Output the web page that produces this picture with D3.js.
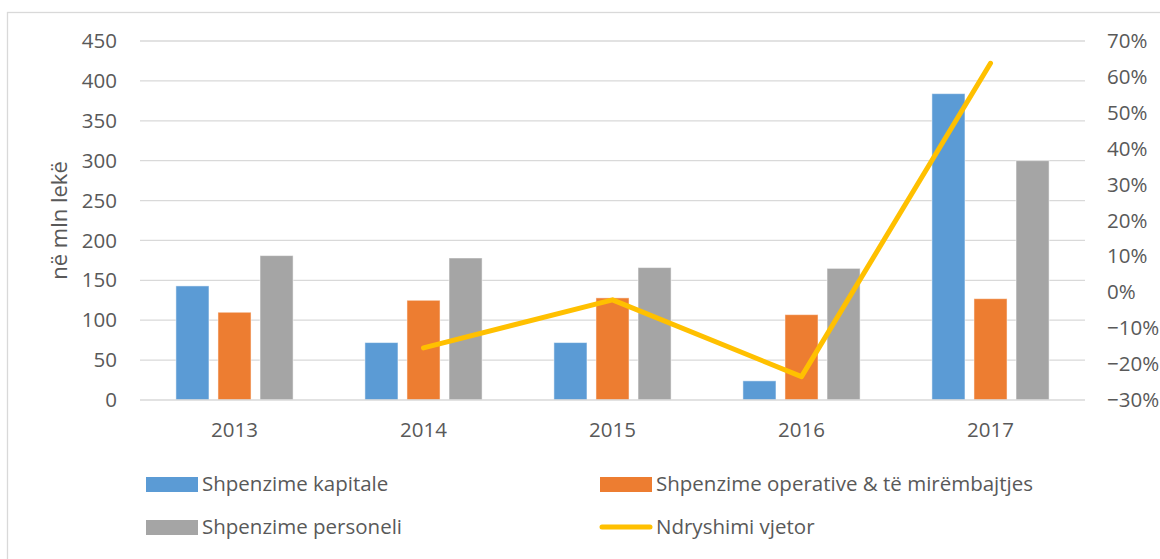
<!DOCTYPE html>
<html>
<head>
<meta charset="utf-8">
<script src="https://cdn.jsdelivr.net/npm/d3@7"></script>
<style>
  body { margin: 0; background: #fff; }
  svg text { font-family: "Open Sans", sans-serif; fill: #595959; }
  .grid line { stroke: #d9d9d9; stroke-width: 1.3; }
</style>
</head>
<body>
<svg width="1160" height="559"></svg>
<script>
var years = ["2013", "2014", "2015", "2016", "2017"];
var seriesNames = ["Shpenzime kapitale", "Shpenzime operative & të mirëmbajtjes", "Shpenzime personeli"];
var seriesColors = ["#5b9bd5", "#ed7d31", "#a5a5a5"];
var kapitale = [143, 72, 72, 24, 384];
var operative = [110, 125, 128, 107, 127];
var personeli = [181, 178, 166, 165, 300];
var lineName = "Ndryshimi vjetor";
var lineColor = "#ffc000";
var ndryshimi = [null, -0.155, -0.021, -0.235, 0.638];
var leftTicks = [0, 50, 100, 150, 200, 250, 300, 350, 400, 450];
var rightTicks = [-0.3, -0.2, -0.1, 0, 0.1, 0.2, 0.3, 0.4, 0.5, 0.6, 0.7];

var svg = d3.select("svg"),
    margin = {top: 41, right: 75, bottom: 159, left: 140},
    width = +svg.attr("width") - margin.left - margin.right,
    height = +svg.attr("height") - margin.top - margin.bottom;

// chart frame (runs past the right and bottom edges)
svg.append("rect")
    .attr("x", 7.5).attr("y", 12.5)
    .attr("width", 1200).attr("height", 600)
    .attr("fill", "none").attr("stroke", "#d9d9d9").attr("stroke-width", 1.3);

var g = svg.append("g").attr("transform", "translate(" + margin.left + "," + margin.top + ")");

var x0 = d3.scaleBand().domain(years).range([0, width]);
var groupW = x0.bandwidth() * 0.62;
var x1 = d3.scaleBand().domain(d3.range(3)).range([-groupW / 2, groupW / 2]).paddingInner(0.214);

var y = d3.scaleLinear().domain([0, 450]).range([height, 0]);
var y2 = d3.scaleLinear().domain([-0.3, 0.7]).range([height, 0]);

// gridlines
g.append("g").attr("class", "grid")
  .selectAll("line").data(leftTicks.slice(1)).enter().append("line")
    .attr("x1", 0).attr("x2", width)
    .attr("y1", function(d) { return y(d); }).attr("y2", function(d) { return y(d); });

// left axis
var yAxis = g.append("g")
    .call(d3.axisLeft(y).tickValues(leftTicks).tickSize(0).tickPadding(23));
yAxis.select(".domain").remove();
yAxis.selectAll("text").style("font-size", "20.5px");

// right axis
var yAxis2 = g.append("g")
    .attr("transform", "translate(" + width + ",0)")
    .call(d3.axisRight(y2).tickValues(rightTicks).tickSize(0).tickPadding(22).tickFormat(d3.format(".0%")));
yAxis2.select(".domain").remove();
yAxis2.selectAll("text").style("font-size", "20.5px");

// bars
var seriesData = [kapitale, operative, personeli];
var groups = g.selectAll(".year")
  .data(years)
  .enter().append("g")
    .attr("class", "year")
    .attr("transform", function(d) { return "translate(" + (x0(d) + x0.bandwidth() / 2) + ",0)"; });

groups.selectAll("rect")
  .data(function(d, i) { return seriesData.map(function(s, k) { return {k: k, v: s[i]}; }); })
  .enter().append("rect")
    .attr("x", function(d) { return x1(d.k); })
    .attr("width", x1.bandwidth())
    .attr("y", function(d) { return y(d.v); })
    .attr("height", function(d) { return height - y(d.v); })
    .attr("fill", function(d) { return seriesColors[d.k]; })
    .attr("stroke", "#fff").attr("stroke-opacity", 0.5).attr("stroke-width", 1);

// x axis baseline
g.append("line")
    .attr("x1", 0).attr("x2", width)
    .attr("y1", height).attr("y2", height)
    .attr("stroke", "#d9d9d9").attr("stroke-width", 1.5);

var xAxis = g.append("g")
    .attr("transform", "translate(0," + height + ")")
    .call(d3.axisBottom(x0).tickSize(0).tickPadding(22));
xAxis.select(".domain").remove();
xAxis.selectAll("text").style("font-size", "20.5px");

// line
var line = d3.line()
    .defined(function(d) { return d != null; })
    .x(function(d, i) { return x0(years[i]) + x0.bandwidth() / 2; })
    .y(function(d) { return y2(d); });

g.append("path")
    .datum(ndryshimi)
    .attr("fill", "none")
    .attr("stroke", lineColor)
    .attr("stroke-width", 5)
    .attr("stroke-linecap", "round")
    .attr("stroke-linejoin", "round")
    .attr("d", line);

// y label
g.append("text")
    .attr("text-anchor", "middle")
    .attr("transform", "rotate(-90)")
    .attr("x", -(y(225)))
    .attr("y", -73)
    .style("font-size", "22px")
    .text("në mln lekë");

// legend
var legendItems = [
  {name: seriesNames[0], color: seriesColors[0], type: "rect"},
  {name: seriesNames[1], color: seriesColors[1], type: "rect"},
  {name: seriesNames[2], color: seriesColors[2], type: "rect"},
  {name: lineName, color: lineColor, type: "line"}
];
var legend = svg.append("g").attr("transform", "translate(146,484)");
var item = legend.selectAll(".item")
  .data(legendItems)
  .enter().append("g")
    .attr("class", "item")
    .attr("transform", function(d, i) { return "translate(" + (i % 2) * 454 + "," + Math.floor(i / 2) * 43 + ")"; });

item.filter(function(d) { return d.type === "rect"; }).append("rect")
    .attr("x", 0).attr("y", -7).attr("width", 52).attr("height", 15)
    .attr("fill", function(d) { return d.color; });
item.filter(function(d) { return d.type === "line"; }).append("line")
    .attr("x1", 2).attr("x2", 50).attr("y1", 0).attr("y2", 0)
    .attr("stroke", function(d) { return d.color; })
    .attr("stroke-width", 5).attr("stroke-linecap", "round");
item.append("text")
    .attr("x", 56).attr("dy", "0.35em")
    .style("font-size", "20.5px")
    .text(function(d) { return d.name; });
</script>
</body>
</html>
